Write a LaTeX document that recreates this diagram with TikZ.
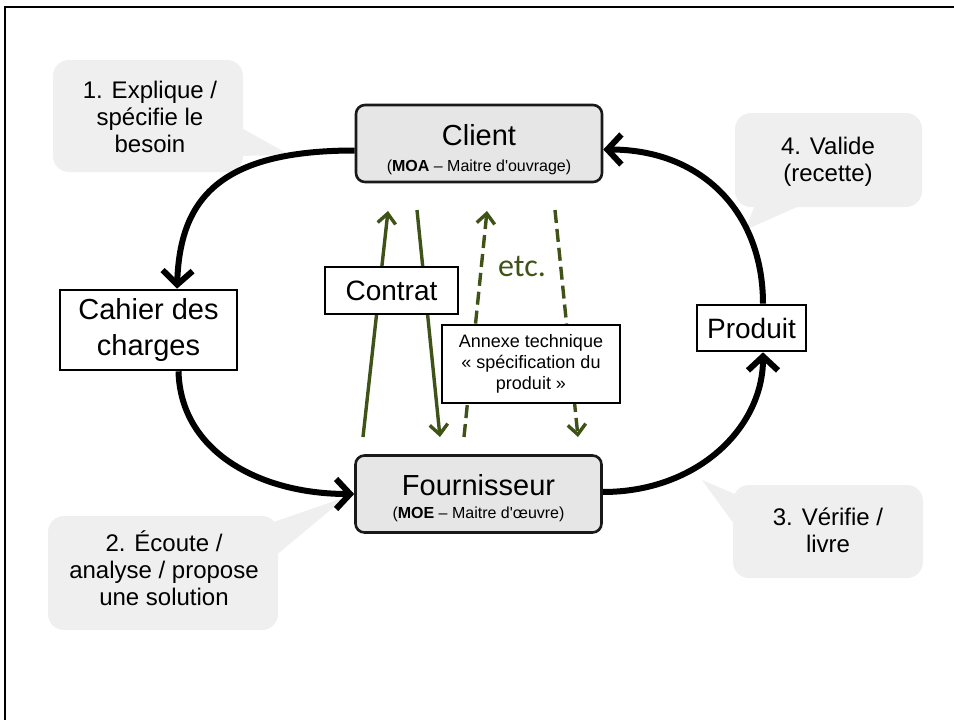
\documentclass[tikz,border=0pt]{standalone}
\usepackage{fontspec}
\setmainfont{Liberation Sans}[Ligatures=TeXOff]
\newfontfamily\etcfont{Carlito}
\usetikzlibrary{arrows.meta,calc}
\definecolor{olivedark}{HTML}{3F5217}
\definecolor{bubblegray}{HTML}{EFEFEF}
\definecolor{boxgray}{HTML}{E6E6E6}
\newcommand\fsz[2]{\fontsize{#1}{#2}\selectfont}

\begin{document}
\begin{tikzpicture}[x=1pt,y=-1pt,
  pageframe/.style={line width=2.4pt},
  mainbox/.style={draw=black!90, line width=2.6pt, rounded corners=9pt, fill=boxgray,
    minimum width=246pt, minimum height=77pt, inner sep=0pt},
  plainbox/.style={draw=black, line width=2.6pt, fill=white, inner sep=0pt, align=center},
  cyclearrow/.style={line width=6pt, -{Straight Barb[length=14pt,width=30pt,line width=6pt]}},
  docarrow/.style={draw=olivedark, line width=3.4pt, -{Straight Barb[length=10pt,width=18pt,line width=3.4pt]}},
  docdashed/.style={docarrow, dash pattern=on 13pt off 6pt},
  bubble/.style={fill=bubblegray, draw=none},
  bubtext/.style={font=\fsz{24}{27}, align=center},
  titletext/.style={anchor=base, font=\fsz{29}{32}},
  subtext/.style={anchor=base, font=\fsz{16}{18}}
]
\useasboundingbox (0,0) rectangle (954,720);

% page frame (top and left edges)
\draw[pageframe] (5,720) -- (5,7) -- (954,7);

% speech bubbles
\fill[bubble, rounded corners=16pt] (53,60) rectangle (243,172);
\fill[bubble] (236,125) -- (290,155) -- (236,156) -- cycle;
\fill[bubble, rounded corners=16pt] (48,516) rectangle (278,630);
\fill[bubble] (268,524) -- (346,497) -- (268,562) -- cycle;
\fill[bubble, rounded corners=16pt] (733,485) rectangle (923,578);
\fill[bubble] (702,480) -- (742,497) -- (742,535) -- cycle;
\fill[bubble, rounded corners=16pt] (735,113) rectangle (922,207);
\fill[bubble] (757,200) -- (745,230) -- (813,200) -- cycle;

\node[bubtext] (b1) at (150,117) {1. Explique /\\spécifie le\\besoin};
\node[bubtext] (b2) at (164,568) {2. Écoute /\\analyse / propose\\une solution};
\node[bubtext] (b3) at (828,530) {3. Vérifie /\\livre};
\node[bubtext] (b4) at (828,162) {4. Valide\\(recette)};

% exchanged documents
\coordinate (g1s) at (363,437); \coordinate (g1e) at (388,211);
\coordinate (g2s) at (417,210); \coordinate (g2e) at (440,437);
\coordinate (g3s) at (464,437); \coordinate (g3e) at (487,211);
\coordinate (g4s) at (555,210); \coordinate (g4e) at (578,437);
\draw[docarrow] (g1s) -- (g1e);
\draw[docarrow] (g2s) -- (g2e);
\draw[docdashed] (g3s) -- (g3e);
\draw[docdashed] (g4s) -- (g4e);
\node[anchor=base, font=\etcfont\fsz{32}{36}, text=olivedark] (etc) at (522,276) {etc.};

\node[plainbox, minimum width=133pt, minimum height=47pt, font=\fsz{28}{32}] (contrat) at (391.5,290.5) {Contrat};
\node[plainbox, minimum width=178pt, minimum height=78pt, font=\fsz{18}{21}] (annexe) at (531,364)
  {Annexe technique\\«~spécification du\\produit~»};

% actors
\node[mainbox] (client) at (479,143.5) {};
\node[titletext] (clientT) at (479,145) {Client};
\node[subtext] (clientS) at (479,171) {(\textbf{MOA} – Maitre d'ouvrage)};

\node[mainbox] (fourn) at (478.5,494) {};
\node[titletext] (fournT) at (478.5,495) {Fournisseur};
\node[subtext] (fournS) at (478.5,518) {(\textbf{MOE} – Maitre d'œuvre)};

% deliverables
\node[plainbox, minimum width=177pt, minimum height=80pt, font=\fsz{29}{36}] (cahier) at (148.5,330) {Cahier des\\charges};
\node[plainbox, minimum width=109pt, minimum height=46pt, font=\fsz{28}{32}] (produit) at (751.5,328) {Produit};

% project cycle
\draw[cyclearrow] ($(client.west)+(0,7)$) .. controls +(-135,0) and +(3,-90) .. ($(cahier.north)+(28.5,0)$);
\draw[cyclearrow] ($(cahier.south)+(30,0)$) .. controls +(2,80) and +(-95,0) .. ($(fourn.west)+(0,0)$);
\draw[cyclearrow] ($(fourn.east)+(0,-2)$) .. controls +(95,0) and +(0,75) .. ($(produit.south)+(11.5,0)$);
\draw[cyclearrow] ($(produit.north)+(11.5,0)$) .. controls +(0,-90) and +(100,0) .. ($(client.east)+(0,6)$);
\end{tikzpicture}
\end{document}
